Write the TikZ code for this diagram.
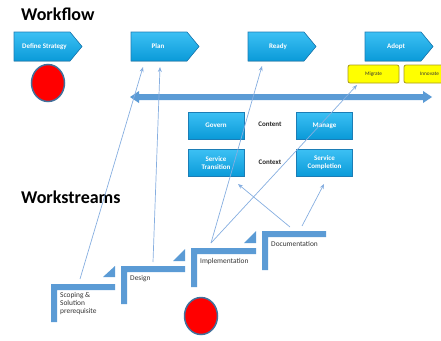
\documentclass[tikz,border=0pt]{standalone}
\usepackage{fontspec}
\setmainfont{Carlito}
\usetikzlibrary{arrows.meta}
\definecolor{boxtop}{HTML}{3CC0F4}
\definecolor{boxbot}{HTML}{0A9AD8}
\definecolor{boxline}{HTML}{1B7DB6}
\definecolor{stepblue}{HTML}{5B9BD5}
\definecolor{connblue}{HTML}{86AEE0}
\definecolor{circline}{HTML}{41719C}
\definecolor{ylw}{HTML}{FFFF00}
\definecolor{ylwline}{HTML}{A89A1A}
\tikzset{
  wfshape/.style={top color=boxtop, bottom color=boxbot, draw=boxline, line width=0.6pt},
  wftext/.style={text=white, font=\bfseries\fontsize{7}{8}\selectfont, inner sep=0pt},
  bbox/.style={top color=boxtop, bottom color=boxbot, draw=boxline, line width=0.6pt,
    minimum width=56pt, minimum height=27pt, inner sep=1pt, align=center,
    text=white, font=\bfseries\fontsize{7}{8}\selectfont},
  ybox/.style={fill=ylw, draw=ylwline, line width=0.8pt, rounded corners=2pt,
    minimum width=51pt, minimum height=18pt, inner sep=0pt,
    font=\fontsize{5.3}{6}\selectfont, text=black!80},
  steptext/.style={anchor=west, inner sep=0pt, text=black!80, align=left,
    font=\fontsize{7.4}{8.2}\selectfont},
  title/.style={anchor=base west, inner sep=0pt, font=\bfseries\fontsize{18}{20}\selectfont},
  ctext/.style={inner sep=0pt, font=\bfseries\fontsize{7}{8}\selectfont, text=black!85},
  conn/.style={draw=connblue, line width=0.7pt, -{Stealth[length=5pt,width=4pt]}},
  redc/.style={fill=red, draw=circline, line width=1.5pt}
}
\begin{document}
\begin{tikzpicture}[x=1pt,y=-1pt]
\useasboundingbox (0,0) rectangle (441,340);
% titles
\node[title] (wftitle) at (21,20) {Workflow};
\node[title] (wstitle) at (21,203) {Workstreams};
% workflow pentagons
\filldraw[wfshape] (14,32) -- (70,32) -- (82,46.5) -- (70,61) -- (14,61) -- cycle;
\node[wftext] (ds) at (44.5,46.5) {Define Strategy};
\filldraw[wfshape] (131,32) -- (187,32) -- (199,46.5) -- (187,61) -- (131,61) -- cycle;
\node[wftext] (plan) at (158,46.5) {Plan};
\filldraw[wfshape] (248,32) -- (304,32) -- (316,46.5) -- (304,61) -- (248,61) -- cycle;
\node[wftext] (ready) at (278,46.5) {Ready};
\filldraw[wfshape] (365,32) -- (421,32) -- (433,46.5) -- (421,61) -- (365,61) -- cycle;
\node[wftext] (adopt) at (396,46.5) {Adopt};
% yellow boxes
\node[ybox] (migrate) at (373.5,74) {Migrate};
\node[ybox] (innovate) at (429.5,74) {Innovate};
% red circles
\draw[redc] (48,83) ellipse [x radius=16.5, y radius=18.5];
\draw[redc] (201,316) ellipse [x radius=16.5, y radius=18.5];
% big double arrow
\fill[stepblue] (130,97) -- (139,91) -- (139,94) -- (423,94) -- (423,91) -- (432,97)
  -- (423,103) -- (423,100) -- (139,100) -- (139,103) -- cycle;
% content boxes
\node[bbox] (govern) at (216,125.5) {Govern};
\node[bbox] (manage) at (324.5,125.5) {Manage};
\node[bbox] (strans) at (216,163) {Service\\Transition};
\node[bbox] (scomp) at (324.5,163) {Service\\Completion};
\node[ctext] (content) at (270,124) {Content};
\node[ctext] (context) at (270,162) {Context};
% steps
\fill[stepblue] (51,284) -- (115,284) -- (115,290) -- (57,290) -- (57,322) -- (51,322) -- cycle;
\fill[stepblue] (103,277) -- (115,277) -- (115,266) -- cycle;
\fill[stepblue] (121,266) -- (185,266) -- (185,272) -- (127,272) -- (127,304) -- (121,304) -- cycle;
\fill[stepblue] (173,261) -- (185,261) -- (185,249) -- cycle;
\fill[stepblue] (191,248) -- (256,248) -- (256,254) -- (197,254) -- (197,287) -- (191,287) -- cycle;
\fill[stepblue] (244,243) -- (256,243) -- (256,231) -- cycle;
\fill[stepblue] (262,231) -- (326,231) -- (326,237) -- (268,237) -- (268,270) -- (262,270) -- cycle;
\node[steptext, anchor=north west] (scoping) at (60,292) {Scoping \&\\Solution\\prerequisite};
\node[steptext] (design) at (130,279) {Design};
\node[steptext] (impl) at (200,262) {Implementation};
\node[steptext] (doc) at (271,244) {Documentation};
% connector ends
\coordinate (s1) at (80,279);
\coordinate (s2) at (153,262);
\coordinate (s3) at (211,243);
\coordinate (s4a) at (290,227);
\coordinate (s4b) at (302,226);
\coordinate (p1) at (143,67);
\coordinate (p2) at (160,67);
\coordinate (r1) at (262,66);
\coordinate (m1) at (357,85);
\coordinate (t1) at (238,184);
\coordinate (c1) at (324,184);
\draw[conn] (s1) -- (p1);
\draw[conn] (s2) -- (p2);
\draw[conn] (s3) -- (r1);
\draw[conn] (s3) -- (m1);
\draw[conn] (s4a) -- (t1);
\draw[conn] (s4b) -- (c1);
\end{tikzpicture}
\end{document}
